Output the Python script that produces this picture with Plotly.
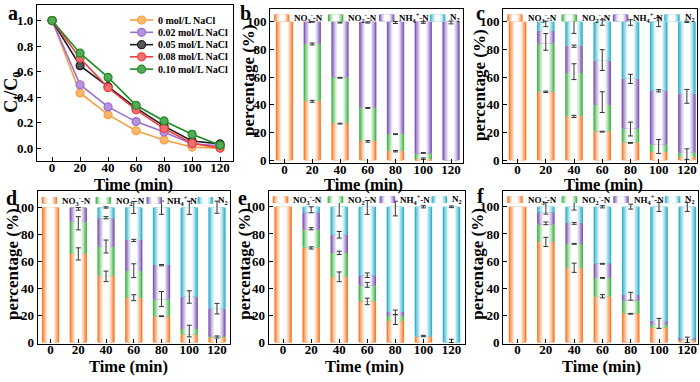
import plotly.graph_objects as go

# ---------------- data ----------------
times = [0, 20, 40, 60, 80, 100, 120]

# panel a : Ct/C0 vs time
a_labels = ["0 mol/L NaCl", "0.02 mol/L NaCl", "0.05 mol/L NaCl", "0.08 mol/L NaCl", "0.10 mol/L NaCl"]
a_000 = [1.0, 0.433, 0.262, 0.136, 0.064, 0.008, 0.000]
a_002 = [1.0, 0.497, 0.323, 0.208, 0.126, 0.033, 0.018]
a_005 = [1.0, 0.646, 0.482, 0.315, 0.172, 0.056, 0.033]
a_008 = [1.0, 0.705, 0.474, 0.300, 0.154, 0.038, 0.000]
a_010 = [1.0, 0.744, 0.554, 0.336, 0.213, 0.108, 0.023]
a_err_000 = [0, 0.01, 0.01, 0.01, 0.01, 0.01, 0.005]
a_err_002 = [0, 0.01, 0.01, 0.01, 0.01, 0.01, 0.005]
a_err_005 = [0, 0.03, 0.01, 0.01, 0.01, 0.01, 0.005]
a_err_008 = [0, 0.01, 0.02, 0.01, 0.01, 0.01, 0.005]
a_err_010 = [0, 0.01, 0.03, 0.01, 0.01, 0.01, 0.005]

species = ["NO<sub>3</sub><sup>-</sup>-N", "NO<sub>2</sub><sup>-</sup>-N", "NH<sub>4</sub><sup>+</sup>-N", "N<sub>2</sub>"]

# panels b-f : nitrogen distribution (%)
b_no3 = [100, 43, 27, 14, 7, 1, 0]
b_no2 = [0, 41, 33, 24, 12, 4, 0]
b_nh4 = [0, 16, 40, 62, 81, 95, 100]
b_n2 = [0, 0, 0, 0, 0, 0, 0]

c_no3 = [100, 49.5, 32, 21, 13, 6, 2.5]
c_no2 = [0, 35, 31, 19, 10, 5.5, 3]
c_nh4 = [0, 9, 19.5, 32, 36, 39, 42.5]
c_n2 = [0, 6.5, 17.5, 28, 41, 49.5, 52]

d_no3 = [100, 65.5, 49.5, 33, 19.5, 6, 4]
d_no2 = [0, 24, 21.5, 20, 12.5, 4, 0.7]
d_nh4 = [0, 10.5, 21, 23, 25.5, 24, 20.5]
d_n2 = [0, 0, 8, 24, 42.5, 66, 74.8]

e_no3 = [100, 70, 48.5, 30.5, 16, 4.5, 0]
e_no2 = [0, 13, 17.5, 11.5, 3.5, 0, 0]
e_nh4 = [0, 13, 13.5, 7.5, 3, 0, 0]
e_n2 = [0, 4, 20.5, 50.5, 77.5, 95.5, 100]

f_no3 = [100, 74, 55, 34, 21.5, 11, 1.8]
f_no2 = [0, 13, 17.5, 13.5, 9.5, 2.2, 0.5]
f_nh4 = [0, 9, 15.5, 11, 4, 2.8, 1]
f_n2 = [0, 4, 12, 41.5, 65, 84, 96.7]

# error bars (time, centre, half-length)
b_err_x = [20, 20, 20, 40, 40, 40, 60, 60, 60, 80, 80, 80, 100, 100, 100, 120]
b_err_y = [42.6, 84, 100, 26.5, 59.6, 99.5, 13.7, 37.8, 99.5, 6.6, 18.9, 99.5, 1.2, 5.4, 99.5, 99.5]
b_err_v = [0.7, 0.7, 0.3, 0.3, 0.3, 0.4, 0.6, 0.3, 0.4, 0.5, 0.3, 0.7, 0.5, 0.3, 0.6, 1.0]

c_err_x = [20, 20, 20, 40, 40, 40, 40, 60, 60, 60, 60, 80, 80, 80, 80, 100, 100, 100, 120, 120, 120]
c_err_y = [49.5, 85.5, 98.5, 31.7, 64, 82.4, 97.1, 20.7, 42, 72.4, 99.5, 12.6, 22.6, 58.8, 99.5, 10, 50.2, 99.8, 4.5, 46.2, 100]
c_err_v = [0.5, 6, 2, 0.8, 5.7, 0.8, 5.5, 0.3, 7.5, 7.5, 2, 0.3, 5, 3.3, 2, 5, 0.8, 3.3, 3.8, 5, 0.5]

d_err_x = [20, 20, 20, 40, 40, 40, 40, 60, 60, 60, 60, 80, 80, 80, 80, 100, 100, 100, 120, 120, 120]
d_err_y = [65.6, 88.3, 99, 49, 71.1, 92.4, 100, 33.2, 53.2, 75.6, 100, 19.5, 32.2, 57.3, 99.8, 8.5, 33.7, 99.8, 4.1, 25.1, 100.2]
d_err_v = [4.5, 4.9, 1, 3.9, 4.8, 0.8, 0.5, 2.2, 5.1, 0.8, 4.5, 0.3, 5.6, 0.5, 4.9, 4.3, 4.6, 4.9, 0.8, 3.9, 4.5]

e_err_x = [20, 20, 20, 40, 40, 40, 40, 60, 60, 60, 60, 80, 80, 80, 100, 100, 120, 120]
e_err_y = [69.7, 83.8, 97.8, 48.4, 66.1, 79.4, 98.9, 30.3, 42.5, 49.6, 99.5, 16.9, 22.3, 98.7, 4.8, 100, 1.2, 100]
e_err_v = [0.8, 0.8, 2.2, 3.6, 1.2, 2.4, 5.7, 2.4, 1.8, 1.7, 5.1, 3.6, 1.6, 5.4, 0.5, 0.8, 1.2, 0.6]

f_err_x = [20, 20, 20, 40, 40, 40, 40, 60, 60, 60, 60, 80, 80, 80, 100, 100, 120, 120]
f_err_y = [74.1, 87.8, 98.9, 55.1, 72.7, 87.8, 100.4, 34.1, 47.6, 58, 100, 21.2, 34.1, 100.1, 14.1, 99.9, 2, 99.9]
f_err_v = [3.4, 1, 4.3, 3.4, 0.3, 0.7, 2.8, 1.2, 0.3, 0.3, 0.8, 0.3, 2.9, 1.8, 3.7, 3.3, 2, 3.3]

# ---------------- styling ----------------
FONT = "Liberation Serif"
a_colors = ["#F9A03F", "#9B6FD1", "#1E1E1E", "#EE4040", "#1C8C22"]
bar_colors = ["#F77F2E", "#47B74C", "#7F5AB8", "#35B5CC"]
BAR_W = 12.5
layers = [(1.0, 0.0), (0.84, 0.3), (0.68, 0.58), (0.52, 0.82), (0.36, 1.0)]


def blend(hex_color, t):
    h = hex_color.lstrip('#')
    r, g, b = int(h[0:2], 16), int(h[2:4], 16), int(h[4:6], 16)
    r = round(r + (255 - r) * t)
    g = round(g + (255 - g) * t)
    b = round(b + (255 - b) * t)
    return f"rgb({r},{g},{b})"


fig = go.Figure()

# ---------------- panel a ----------------
a_series = [a_000, a_002, a_005, a_008, a_010]
a_errs = [a_err_000, a_err_002, a_err_005, a_err_008, a_err_010]
for name, vals, errs, col in zip(a_labels, a_series, a_errs, a_colors):
    fig.add_trace(go.Scatter(
        x=times, y=vals, name=name, mode="lines+markers",
        line=dict(color=col, width=1.6),
        marker=dict(symbol="circle", size=8, color=blend(col, 0.25), line=dict(color=col, width=1.2)),
        error_y=dict(type="data", array=errs, color=col, thickness=1, width=2),
        xaxis="x", yaxis="y", showlegend=False, hoverinfo="skip"))

# ---------------- panels b-f ----------------
bar_panels = [
    ("2", [b_no3, b_no2, b_nh4, b_n2], (b_err_x, b_err_y, b_err_v)),
    ("3", [c_no3, c_no2, c_nh4, c_n2], (c_err_x, c_err_y, c_err_v)),
    ("4", [d_no3, d_no2, d_nh4, d_n2], (d_err_x, d_err_y, d_err_v)),
    ("5", [e_no3, e_no2, e_nh4, e_n2], (e_err_x, e_err_y, e_err_v)),
    ("6", [f_no3, f_no2, f_nh4, f_n2], (f_err_x, f_err_y, f_err_v)),
]
for ax, comps, errs in bar_panels:
    base = [0] * len(times)
    for vals, col, sp in zip(comps, bar_colors, species):
        for frac, t in layers:
            fig.add_trace(go.Bar(
                x=times, y=vals, base=list(base), width=BAR_W * frac,
                marker=dict(color=blend(col, t), line=dict(width=0)),
                xaxis="x" + ax, yaxis="y" + ax, showlegend=False, hoverinfo="skip", name=sp))
        base = [b0 + v for b0, v in zip(base, vals)]
    ex, ey, ev = errs
    fig.add_trace(go.Scatter(
        x=ex, y=ey, mode="markers", marker=dict(size=1, color="rgba(0,0,0,0)"),
        error_y=dict(type="data", array=ev, color="#333333", thickness=1, width=2.5),
        xaxis="x" + ax, yaxis="y" + ax, showlegend=False, hoverinfo="skip"))

# ---------------- axes ----------------
common = dict(showline=True, linecolor="black", linewidth=1.3, mirror=True,
              ticks="inside", ticklen=4, tickcolor="black", tickwidth=1.2,
              tickfont=dict(family=FONT, size=13, color="black", weight="bold"),
              showgrid=False, zeroline=False, fixedrange=True)

domains = {
    "": ([0.053, 0.333], [0.571, 0.987], [-10.7, 129.3], [-0.1, 1.123]),
    "2": ([0.386, 0.661], [0.565, 0.977], [-10.3, 128.4], [-2, 109.5]),
    "3": ([0.719, 0.996], [0.565, 0.977], [-10.1, 127.3], [-2, 109.5]),
    "4": ([0.054, 0.329], [0.084, 0.490], [-9.2, 129.6], [-0.7, 112]),
    "5": ([0.384, 0.664], [0.084, 0.492], [-10.2, 129.5], [-0.7, 112]),
    "6": ([0.719, 0.997], [0.084, 0.492], [-10.1, 127.5], [-0.7, 112]),
}
layout_axes = {}
for ax, (dx, dy, rx, ry) in domains.items():
    xa = dict(common, domain=dx, range=rx, tickvals=times, anchor="y" + ax, ticklabelstandoff=-6)
    if ax == "":
        ya = dict(common, domain=dy, range=ry, tickvals=[0, 0.2, 0.4, 0.6, 0.8, 1.0],
                  tickformat=".1f", anchor="x")
    else:
        ya = dict(common, domain=dy, range=ry, tickvals=[0, 20, 40, 60, 80, 100], anchor="x" + ax)
    layout_axes["xaxis" + ax] = xa
    layout_axes["yaxis" + ax] = ya

annotations = []
shapes = []

# axis titles
xt = [("", 0.191, 0.508), ("2", 0.519, 0.508), ("3", 0.862, 0.508),
      ("4", 0.184, 0.024), ("5", 0.520, 0.024), ("6", 0.859, 0.024)]
for ax, x, y in xt:
    annotations.append(dict(text="<b>Time (min)</b>", x=x, y=y, xref="paper", yref="paper",
                            showarrow=False, xanchor="center", yanchor="middle",
                            font=dict(family=FONT, size=16.5, color="black")))
yt = [(0.018, 0.754, "<b>C<sub>t</sub>/C<sub>0</sub></b>"),
      (0.354, 0.786, "<b>percentage (%)</b>"), (0.686, 0.774, "<b>percentage (%)</b>"),
      (0.017, 0.296, "<b>percentage (%)</b>"), (0.350, 0.297, "<b>percentage (%)</b>"),
      (0.683, 0.297, "<b>percentage (%)</b>")]
for x, y, t in yt:
    annotations.append(dict(text=t, x=x, y=y, xref="paper", yref="paper", textangle=-90,
                            showarrow=False, xanchor="center", yanchor="middle",
                            font=dict(family=FONT, size=18 if "C<sub>" in t else 17, color="black")))

# panel letters
letters = [("a", 0.019, 1.0), ("b", 0.351, 1.0), ("c", 0.687, 1.0),
           ("d", 0.017, 0.5055), ("e", 0.347, 0.508), ("f", 0.687, 0.511)]
for t, x, y in letters:
    annotations.append(dict(text="<b>%s</b>" % t, x=x, y=y, xref="paper", yref="paper",
                            showarrow=False, xanchor="center", yanchor="top",
                            font=dict(family=FONT, size=20, color="black")))

# legend of panel a
a_leg_y = [0.903, 0.824, 0.745, 0.667, 0.588]
for name, col, ly in zip(a_labels, a_colors, a_leg_y):
    shapes.append(dict(type="line", xref="x domain", yref="y domain",
                       x0=0.474, x1=0.592, y0=ly, y1=ly, line=dict(color=col, width=1.6)))
    shapes.append(dict(type="circle", xref="x domain", yref="y domain",
                       xsizemode="pixel", ysizemode="pixel", xanchor=0.533, yanchor=ly,
                       x0=-4, x1=4, y0=-4, y1=4, fillcolor=blend(col, 0.25),
                       line=dict(color=col, width=1.2)))
    annotations.append(dict(text="<b>%s</b>" % name, xref="x domain", yref="y domain",
                            x=0.605, y=ly, showarrow=False, xanchor="left", yanchor="middle",
                            font=dict(family=FONT, size=10, color="black")))

# legends of bar panels
patch_x = [(0.02, 0.10), (0.30, 0.38), (0.565, 0.645), (0.83, 0.91)]
text_x = [0.115, 0.395, 0.66, 0.925]
for ax in ["2", "3", "4", "5", "6"]:
    ly = 0.94 if ax in ("2", "3") else 0.94
    for (p0, p1), tx, col, sp in zip(patch_x, text_x, bar_colors, species):
        mid = (p0 + p1) / 2
        half = (p1 - p0) / 2
        for frac, t in layers:
            shapes.append(dict(type="rect", xref="x%s domain" % ax, yref="y%s domain" % ax,
                               x0=mid - half * frac, x1=mid + half * frac,
                               y0=ly - 0.022, y1=ly + 0.022,
                               fillcolor=blend(col, t), line=dict(width=0)))
        annotations.append(dict(text="<b>%s</b>" % sp, xref="x%s domain" % ax, yref="y%s domain" % ax,
                                x=tx, y=ly, showarrow=False, xanchor="left", yanchor="middle",
                                font=dict(family=FONT, size=9, color="black")))

fig.update_layout(
    width=700, height=382, margin=dict(l=0, r=0, t=0, b=0),
    paper_bgcolor="white", plot_bgcolor="white", barmode="overlay",
    showlegend=False, annotations=annotations, shapes=shapes,
    font=dict(family=FONT, color="black"),
    **layout_axes)

fig.write_html("out.html", config={"displayModeBar": False},
               post_script="document.body.style.margin='0';document.body.style.overflow='hidden';")
